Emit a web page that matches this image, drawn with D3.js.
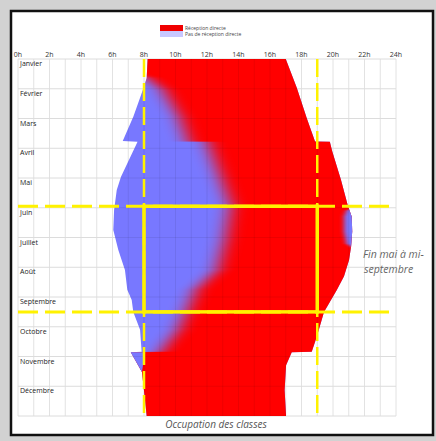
<!DOCTYPE html>
<html><head><meta charset="utf-8">
<script src="https://cdn.jsdelivr.net/npm/d3@7"></script>
<style>html,body{margin:0;padding:0;background:#d2d2d2;} svg{display:block}</style>
</head><body><svg id="c" width="436" height="441"></svg>
<script>
// ---- data (month position 0..12 from 1 Jan, hour of day) ----
const months = ["Janvier","Février","Mars","Avril","Mai","Juin","Juillet","Août","Septembre","Octobre","Novembre","Décembre"];
const hourTicks = [0,2,4,6,8,10,12,14,16,18,20,22,24];
const hourLabels = hourTicks.map(h => h + "h");
const legendLabels = ["Réception directe","Pas de réception directe"];
// outer right edge of the occupied/sunlit zone [month, hour]
const outerRight = [[0,17.0],[0.97,17.7],[1.98,18.33],[2.77,18.86],[2.78,19.8],[3.1,19.95],[4.05,20.5],[4.94,20.95],[5.3,21.19],[5.8,21.22],[6.3,21.15],[6.76,21.02],[7.3,20.7],[7.76,20.25],[8.5,19.43],[9.34,18.97],[9.84,18.65],[9.86,17.38],[10.29,17.02],[11.13,16.93],[12,17.02]];
// outer left edge [month, hour]
const outerLeft = [[0,8.23],[0.64,8.17],[1.0,7.95],[1.38,7.7],[1.94,7.32],[2.76,6.65],[2.78,7.59],[3.96,6.54],[4.4,6.27],[5.08,6.1],[5.75,6.05],[6.42,6.37],[7.09,6.79],[7.76,6.94],[8.1,7.22],[8.5,7.32],[9.1,7.75],[9.84,7.85],[9.86,7.16],[10.52,7.87],[11.0,7.97],[12,8.17]];
// hour where "pas de réception directe" turns into "réception directe"
const transition = [[0,6.5],[0.5,7.2],[0.64,8.17],[1.04,9.2],[1.94,10.22],[2.77,10.8],[2.78,12.0],[3.96,12.83],[4.94,13.5],[6.08,13.14],[7.09,12.63],[7.76,11.3],[8.44,10.73],[9.1,10.16],[9.78,9.14],[9.84,9.0],[9.86,7.0],[10.52,6.5],[12,6.5]];
// blue strip on the right edge in June [month, hour]
const rightStrip = [[4.94,21.6],[5.1,20.85],[5.3,20.7],[5.8,20.7],[6.2,20.85],[6.45,21.6]];
// triangle left at the October time change [month, hour]
const notchNov = [[9.86,7.16],[9.86,8.06],[10.52,7.87]];
// highlighted period: end of May to mid-September, 8h to 19h
const periodMonths = [4.95, 8.5];
const periodHours = [8, 19];

const svg = d3.select("#c");
const x = d3.scaleLinear().domain([0,24]).range([18,396]);
const y = d3.scaleLinear().domain([0,12]).range([59,416]);
const RED = "#ff0000", BLUE = "#7878ff", YEL = "#fff200";
const FONT = "'Open Sans', 'DejaVu Sans', sans-serif";

// frame
svg.append("rect").attr("x",11).attr("y",11).attr("width",422).attr("height",424)
  .attr("fill","#fff").attr("stroke","#111").attr("stroke-width",2.5);

const defs = svg.append("defs");
const f1 = defs.append("filter").attr("id","hb").attr("x","-15%").attr("y","0").attr("width","130%").attr("height","100%");
f1.append("feGaussianBlur").attr("stdDeviation","9 0");
const f2 = defs.append("filter").attr("id","hb2").attr("x","-30%").attr("y","0").attr("width","160%").attr("height","100%");
f2.append("feGaussianBlur").attr("stdDeviation","2.5 0");

const line = d3.line().x(d => x(d[1])).y(d => y(d[0]));
const outerPts = outerRight.concat(outerLeft.slice().reverse());
defs.append("clipPath").attr("id","outer").append("path").attr("d", line(outerPts) + "Z");

// light grid under
const grid = svg.append("g");
d3.range(0,25).forEach(h => grid.append("line").attr("x1",x(h)).attr("x2",x(h)).attr("y1",y(0)).attr("y2",y(12)).attr("stroke","#e2e2e2").attr("stroke-width",1));
d3.range(0,13).forEach(m => grid.append("line").attr("x1",x(0)).attr("x2",x(24)).attr("y1",y(m)).attr("y2",y(m)).attr("stroke","#dcdcdc").attr("stroke-width",1));

// blue base
svg.append("path").attr("d", line(outerPts) + "Z").attr("fill", BLUE);
// red with soft transition
const gRed = svg.append("g").attr("clip-path","url(#outer)");
const redPts = transition.concat([[12,24.5],[0,24.5]]);
gRed.append("path").attr("d", line(redPts) + "Z").attr("fill", RED).attr("filter","url(#hb)");
const stripPts = rightStrip.concat([[6.45,24.5],[4.94,24.5]]);
gRed.append("path").attr("d", line(stripPts) + "Z").attr("fill", BLUE).attr("filter","url(#hb2)");
svg.append("path").attr("d", line(notchNov) + "Z").attr("fill", BLUE);

// faint grid over colours
const grid2 = svg.append("g").attr("clip-path","url(#outer)");
d3.range(0,25).forEach(h => grid2.append("line").attr("x1",x(h)).attr("x2",x(h)).attr("y1",y(0)).attr("y2",y(12)).attr("stroke","#000").attr("stroke-opacity",0.07));
d3.range(0,13).forEach(m => grid2.append("line").attr("x1",x(0)).attr("x2",x(24)).attr("y1",y(m)).attr("y2",y(m)).attr("stroke","#000").attr("stroke-opacity",0.07));

// hour labels
svg.append("g").selectAll("text").data(hourTicks).join("text")
  .attr("x", d => x(d)).attr("y", 57).attr("text-anchor","middle")
  .attr("font-family", FONT).attr("font-size", 7).attr("fill","#333")
  .text((d,i) => hourLabels[i]);
// month labels
svg.append("g").selectAll("text").data(months).join("text")
  .attr("x", 20).attr("y", (d,i) => y(i) + 7).attr("font-family", FONT)
  .attr("font-size", 7).attr("fill","#222").text(d => d);

// yellow markers
const ly = svg.append("g");
periodHours.forEach(h => ly.append("line").attr("x1",x(h)).attr("x2",x(h)).attr("y1",y(0)).attr("y2",y(12))
  .attr("stroke",YEL).attr("stroke-width",2.5).attr("stroke-dasharray","18,6"));
periodMonths.forEach(m => ly.append("line").attr("x1",x(0)).attr("x2",x(24)).attr("y1",y(m)).attr("y2",y(m))
  .attr("stroke",YEL).attr("stroke-width",3).attr("stroke-dasharray","20,7"));
ly.append("rect").attr("x",x(periodHours[0])).attr("y",y(periodMonths[0]))
  .attr("width",x(periodHours[1])-x(periodHours[0])).attr("height",y(periodMonths[1])-y(periodMonths[0]))
  .attr("fill","none").attr("stroke",YEL).attr("stroke-width",3.5);

// legend
const lg = svg.append("g");
lg.append("rect").attr("x",160).attr("y",25).attr("width",23).attr("height",6).attr("fill","#f00000");
lg.append("rect").attr("x",160).attr("y",31).attr("width",23).attr("height",6).attr("fill","#c8c8ff");
legendLabels.forEach((t,i) => lg.append("text").attr("x",185).attr("y",30 + i*6).attr("font-family",FONT)
  .attr("font-size",5).attr("fill","#444").text(t));

// annotations
const ann = svg.append("g").attr("font-family",FONT).attr("font-style","italic").attr("fill","#666");
ann.append("text").attr("x",363).attr("y",258).attr("font-size",10.5).text("Fin mai à mi-");
ann.append("text").attr("x",364).attr("y",273).attr("font-size",10.5).text("septembre");
ann.append("text").attr("x",216).attr("y",428).attr("text-anchor","middle").attr("font-size",10).attr("fill","#555").text("Occupation des classes");
</script>
</body></html>
